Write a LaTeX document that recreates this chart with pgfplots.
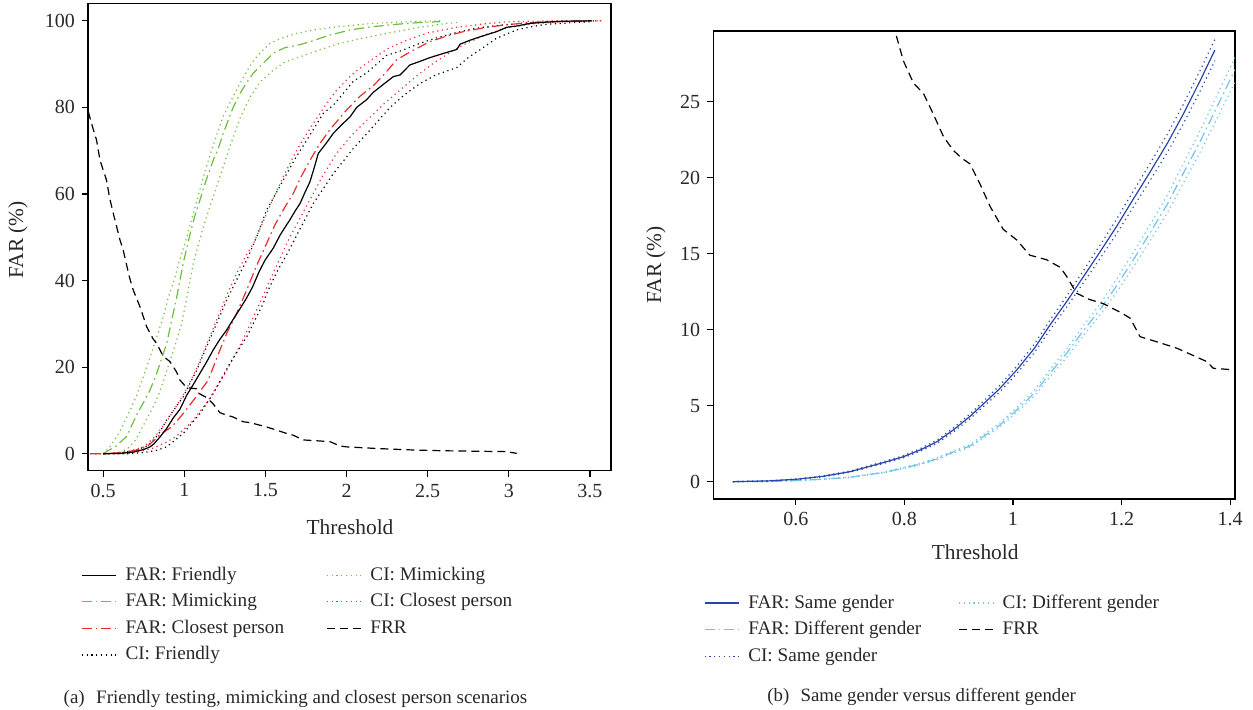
\documentclass[border=0pt]{standalone}
\usepackage{fontspec}
\setmainfont{Liberation Serif}
\usepackage{pgfplots}
\pgfplotsset{compat=1.18}
\definecolor{cgreen}{RGB}{110,190,60}
\definecolor{cred}{RGB}{235,45,45}
\definecolor{cdblue}{RGB}{40,70,170}
\definecolor{clblue}{RGB}{115,195,232}
\definecolor{ctext}{RGB}{40,40,40}
\tikzset{
  dashdot/.style={dash pattern=on 5pt off 2pt on 0.8pt off 2pt},
  mydot/.style={dash pattern=on 0.6pt off 1.8pt},
  mydash/.style={dash pattern=on 4pt off 2.5pt},
}
\pgfplotsset{
  base/.style={
    scale only axis,
    tick pos=left,
    tick align=outside,
    major tick length=3pt,
    tick style={black, line width=0.6pt},
    axis line style={line width=0.8pt},
    /pgf/number format/assume math mode=true,
    tick label style={font=\fontsize{10}{12}\selectfont, text=ctext},
    label style={font=\fontsize{10.7}{13}\selectfont, text=ctext},
    legend cell align=left,
    transpose legend,
    legend style={draw=none, fill=none, inner sep=0pt, outer sep=0pt,
      font=\fontsize{9.6}{11}\selectfont, text=ctext,
      nodes={text height=7pt, text depth=2pt, inner ysep=2.15pt, inner xsep=3pt},
      row sep=0pt,
      /tikz/every odd column/.append style={column sep=1.5pt}},
    every axis plot/.append style={line width=0.6pt},
  },
}
\begin{document}
\begin{tikzpicture}
\path[use as bounding box] (0,0) rectangle (626.5pt,355pt);
% ---------------- left panel ----------------
\begin{axis}[base,
  at={(44pt,119.65pt)}, anchor=south west,
  width=261.5pt, height=233.6pt,
  xmin=0.406, xmax=3.63, ymin=-3.9, ymax=104,
  xtick={0.5,1,1.5,2,2.5,3,3.5}, ytick={0,20,40,60,80,100},
  xlabel={Threshold}, ylabel={FAR (\%)},
  xlabel style={at={(axis description cs:0.501,-0.1205)}, anchor=center},
  ylabel style={at={(axis description cs:-0.134,0.494)}, anchor=center},
  legend columns=4,
  legend style={at={(axis description cs:-0.013,-0.195)}, anchor=north west,
    /tikz/every even column/.append style={column sep=18pt}},
]
\addlegendimage{black, solid}\addlegendentry{FAR: Friendly}
\addlegendimage{cgreen, dashdot}\addlegendentry{FAR: Mimicking}
\addlegendimage{cred, dashdot}\addlegendentry{FAR: Closest person}
\addlegendimage{black, mydot}\addlegendentry{CI: Friendly}
\addlegendimage{cgreen, mydot}\addlegendentry{CI: Mimicking}
\addlegendimage{cred, mydot}\addlegendentry{CI: Closest person}
\addlegendimage{black, mydash}\addlegendentry{FRR}
% CI mimicking
\addplot[cgreen, mydot, forget plot] coordinates {
(0.5,0) (0.541,1.6) (0.6,5) (0.665,10) (0.706,13.5) (0.747,17.8) (0.808,24.5) (0.87,31.6) (0.9,36) (0.932,39.5) (0.973,45) (1.014,50) (1.055,55.5) (1.096,61) (1.137,66.5) (1.18,71.5) (1.24,78) (1.30,82.5) (1.364,87) (1.42,90.5) (1.466,92.5) (1.528,94.8) (1.6,96) (1.692,97.1) (1.816,98) (1.939,98.6) (2.1,99.2) (2.206,99.5) (2.4,99.8) (2.576,100)};
\addplot[cgreen, mydot, forget plot] coordinates {
(0.6,0.3) (0.65,1.2) (0.7,3.2) (0.768,8) (0.81,11) (0.85,14.5) (0.89,19) (0.93,23.5) (0.983,30) (1.02,37) (1.055,44) (1.117,52.4) (1.17,58.5) (1.199,61.7) (1.25,67.5) (1.281,71) (1.343,77.5) (1.405,82.4) (1.47,86) (1.548,88.6) (1.62,90.5) (1.713,91.7) (1.85,93.5) (1.959,94.8) (2.1,96) (2.247,97.1) (2.45,98.5) (2.617,99.4) (2.7,99.7)};
% FAR mimicking
\addplot[cgreen, dashdot, forget plot] coordinates {
(0.5,0) (0.52,0.5) (0.58,1.8) (0.644,4) (0.706,9) (0.75,12) (0.788,14.7) (0.829,18.5) (0.86,22) (0.891,25.5) (0.92,30.5) (0.952,36) (0.993,44) (1.03,50) (1.065,55) (1.096,58.6) (1.137,63.5) (1.178,67.8) (1.209,70.5) (1.24,74) (1.28,78) (1.301,80) (1.343,83.2) (1.38,85.5) (1.425,87.9) (1.48,90) (1.548,92.5) (1.62,93.8) (1.713,94.5) (1.795,95.4) (1.877,96.5) (1.95,97.2) (2.021,97.9) (2.15,98.6) (2.309,99.2) (2.45,99.6) (2.576,99.8)};
% CI closest person
\addplot[cred, mydot, forget plot] coordinates {
(0.42,0) (0.55,0.1) (0.65,0.5) (0.75,1.6) (0.82,4) (0.9,8) (1.0,14) (1.08,20) (1.14,25.5) (1.2,31) (1.26,36.5) (1.32,41.5) (1.38,45.8) (1.425,48.5) (1.49,54) (1.548,59) (1.61,64) (1.671,68.6) (1.73,72.5) (1.795,76.3) (1.87,80.5) (1.939,84) (2.03,87.5) (2.124,90.2) (2.25,93.5) (2.37,95.5) (2.5,97.2) (2.679,98.5) (2.85,99.3) (3.0,99.8) (3.3,100) (3.58,100)};
\addplot[cred, mydot, forget plot] coordinates {
(0.42,0) (0.6,0) (0.7,0.3) (0.8,1.2) (0.88,2.5) (0.95,4) (1.05,7.5) (1.15,12.5) (1.25,18.5) (1.35,25.5) (1.45,33.5) (1.55,42) (1.65,50) (1.75,57) (1.85,64) (1.939,69.4) (2.03,73.5) (2.124,77) (2.23,80.8) (2.329,84) (2.43,87.2) (2.535,90.2) (2.65,93) (2.75,95) (2.87,97) (3.0,98.5) (3.15,99.3) (3.3,99.7) (3.58,100)};
% CI friendly
\addplot[black, mydot, forget plot] coordinates {
(0.5,0) (0.6,0.2) (0.7,0.8) (0.78,2) (0.84,4.5) (0.891,7.8) (0.993,13.2) (1.076,19.3) (1.137,24.7) (1.199,30.1) (1.261,35.5) (1.32,40) (1.384,44.7) (1.45,50.5) (1.507,56.3) (1.57,60.5) (1.631,64.7) (1.69,68.6) (1.754,72.4) (1.856,78.6) (1.918,80.5) (2.041,86) (2.124,88) (2.247,92) (2.329,93) (2.452,94.8) (2.55,96) (2.679,97.3) (2.8,98.3) (2.95,99) (3.1,99.5) (3.3,99.8) (3.55,100)};
\addplot[black, mydot, forget plot] coordinates {
(0.5,0) (0.65,0) (0.75,0.3) (0.83,0.8) (0.891,1.6) (0.993,4.7) (1.096,9.3) (1.178,13.9) (1.281,20.9) (1.384,27) (1.486,34.7) (1.507,37) (1.57,42) (1.631,46) (1.7,51) (1.795,57.8) (1.918,64.7) (2.041,70.5) (2.15,75) (2.268,80) (2.36,83) (2.452,85.5) (2.55,87.5) (2.679,89.2) (2.75,91.5) (2.822,93.3) (2.925,96) (3.049,97.9) (3.15,98.7) (3.233,99.2) (3.5,99.8)};
% FAR closest person
\addplot[cred, dashdot, forget plot] coordinates {
(0.42,0) (0.5,0) (0.618,0.3) (0.7,0.8) (0.768,1.6) (0.829,3.6) (0.85,4.5) (0.922,6.2) (0.993,9.3) (1.065,12.8) (1.147,17) (1.209,23) (1.261,27.8) (1.322,32.4) (1.384,37.8) (1.44,43) (1.5,48) (1.56,53) (1.62,57) (1.671,60.1) (1.72,64) (1.77,67.5) (1.836,71.7) (1.9,75) (2.0,79.4) (2.08,82.5) (2.165,85) (2.24,88) (2.309,91) (2.4,93) (2.514,95.2) (2.62,96.5) (2.72,97.5) (2.85,98.4) (2.966,99) (3.1,99.5) (3.233,99.8) (3.5,100)};
% FAR friendly
\addplot[black, solid, forget plot] coordinates {
(0.5,0) (0.6,0.1) (0.685,0.4) (0.75,1.0) (0.788,1.6) (0.81,2.2) (0.85,3.9) (0.89,5.8) (0.932,8.3) (0.973,10.3) (1.014,13.5) (1.055,16) (1.096,18.6) (1.137,21.2) (1.178,24) (1.22,26.5) (1.261,28.6) (1.30,31) (1.343,33.5) (1.384,36) (1.42,38.5) (1.46,42) (1.497,44.7) (1.548,47.5) (1.59,50.5) (1.61,51.7) (1.65,54) (1.69,56.5) (1.713,57.8) (1.745,60.5) (1.774,62.8) (1.80,66) (1.826,69.4) (1.87,71.5) (1.918,74) (1.97,76) (2.021,77.8) (2.062,80) (2.124,81.8) (2.165,83.5) (2.226,85.3) (2.288,87.1) (2.33,87.5) (2.39,89.8) (2.45,90.6) (2.514,91.5) (2.6,92.5) (2.68,93.4) (2.70,94.6) (2.76,95.5) (2.822,96.3) (2.925,97.5) (2.987,98.5) (3.05,98.8) (3.131,99.4) (3.23,99.7) (3.336,99.9) (3.51,100)};
% FRR
\addplot[black, mydash, forget plot] coordinates {
(0.408,79) (0.43,76) (0.459,72.4) (0.48,67.8) (0.5,65.5) (0.52,63.2) (0.54,59) (0.562,55.5) (0.603,49.4) (0.623,47) (0.66,41) (0.685,37.8) (0.726,34) (0.768,29.3) (0.808,26.5) (0.829,25.5) (0.87,22.5) (0.911,21.3) (0.952,18.9) (0.973,17) (1.014,15.3) (1.076,15) (1.096,13.8) (1.137,13) (1.178,11.5) (1.219,9.5) (1.24,9.2) (1.30,8.5) (1.363,7.4) (1.405,7.2) (1.507,6.2) (1.631,4.7) (1.671,4.3) (1.733,3.2) (1.82,3) (1.898,2.8) (1.96,1.8) (2.0,1.6) (2.2,1.2) (2.432,0.85) (2.6,0.7) (2.987,0.5) (3.049,0.1)};
\end{axis}
% ---------------- right panel ----------------
\begin{axis}[base,
  at={(356.65pt,105.5pt)}, anchor=south west,
  width=260.85pt, height=234pt,
  xmin=0.448, xmax=1.409, ymin=-1.14, ymax=29.65,
  xtick={0.6,0.8,1,1.2,1.4}, ytick={0,5,10,15,20,25},
  xlabel={Threshold}, ylabel={FAR (\%)},
  xlabel style={at={(axis description cs:0.502,-0.113)}, anchor=center},
  ylabel style={at={(axis description cs:-0.11,0.5)}, anchor=center},
  legend columns=3,
  legend style={at={(axis description cs:-0.018,-0.194)}, anchor=north west,
    /tikz/every even column/.append style={column sep=15.5pt}},
]
\addlegendimage{cdblue, solid}\addlegendentry{FAR: Same gender}
\addlegendimage{clblue, dashdot}\addlegendentry{FAR: Different gender}
\addlegendimage{cdblue, mydot}\addlegendentry{CI: Same gender}
\addlegendimage{clblue, mydot}\addlegendentry{CI: Different gender}
\addlegendimage{black, mydash}\addlegendentry{FRR}
% CI different gender
\addplot[clblue, mydot, forget plot] coordinates {
(0.484,0) (0.55,0.02) (0.602,0.08) (0.65,0.17) (0.7,0.31) (0.761,0.63) (0.823,1.15) (0.86,1.56) (0.884,1.94) (0.921,2.44) (0.945,3.07) (0.975,3.83) (1.007,4.88) (1.04,6.05) (1.068,7.37) (1.1,8.78) (1.13,10.28) (1.16,11.67) (1.191,13.32) (1.22,14.97) (1.253,16.93) (1.285,18.88) (1.314,20.95) (1.345,23.1) (1.375,25.37) (1.409,27.9)};
\addplot[clblue, mydot, forget plot] coordinates {
(0.484,0) (0.55,0) (0.602,0.06) (0.65,0.15) (0.7,0.27) (0.761,0.57) (0.823,1.05) (0.86,1.44) (0.884,1.8) (0.921,2.26) (0.945,2.85) (0.975,3.57) (1.007,4.56) (1.04,5.65) (1.068,6.89) (1.1,8.22) (1.13,9.62) (1.16,10.93) (1.191,12.48) (1.22,14.03) (1.253,15.87) (1.285,17.72) (1.314,19.65) (1.345,21.7) (1.375,23.83) (1.409,26.3)};
% FAR different gender
\addplot[clblue, dashdot, forget plot] coordinates {
(0.484,0) (0.55,0.01) (0.602,0.07) (0.65,0.16) (0.7,0.29) (0.761,0.6) (0.823,1.1) (0.86,1.5) (0.884,1.87) (0.921,2.35) (0.945,2.96) (0.975,3.7) (1.007,4.72) (1.04,5.85) (1.068,7.13) (1.1,8.5) (1.13,9.95) (1.16,11.3) (1.191,12.9) (1.22,14.5) (1.253,16.4) (1.285,18.3) (1.314,20.3) (1.345,22.4) (1.375,24.6) (1.409,27.1)};
% CI same gender
\addplot[cdblue, mydot, forget plot] coordinates {
(0.484,0) (0.55,0.06) (0.602,0.18) (0.65,0.38) (0.7,0.7) (0.761,1.31) (0.798,1.71) (0.83,2.19) (0.86,2.74) (0.89,3.53) (0.921,4.46) (0.945,5.28) (0.975,6.31) (1.007,7.59) (1.04,9.08) (1.068,10.62) (1.1,12.26) (1.13,13.9) (1.16,15.54) (1.191,17.28) (1.22,19.02) (1.253,20.96) (1.285,22.9) (1.314,24.84) (1.345,27.08) (1.372,29.1)};
\addplot[cdblue, mydot, forget plot] coordinates {
(0.484,0) (0.55,0.04) (0.602,0.14) (0.65,0.32) (0.7,0.62) (0.761,1.19) (0.798,1.57) (0.83,2.01) (0.86,2.52) (0.89,3.27) (0.921,4.14) (0.945,4.92) (0.975,5.89) (1.007,7.11) (1.04,8.52) (1.068,9.98) (1.1,11.54) (1.13,13.1) (1.16,14.66) (1.191,16.32) (1.22,17.98) (1.253,19.84) (1.285,21.7) (1.314,23.56) (1.345,25.72) (1.372,27.7)};
% FAR same gender
\addplot[cdblue, solid, forget plot] coordinates {
(0.484,0) (0.55,0.05) (0.602,0.16) (0.65,0.35) (0.7,0.66) (0.761,1.25) (0.798,1.64) (0.83,2.1) (0.86,2.63) (0.89,3.4) (0.921,4.3) (0.945,5.1) (0.975,6.1) (1.007,7.35) (1.04,8.8) (1.068,10.3) (1.1,11.9) (1.13,13.5) (1.16,15.1) (1.191,16.8) (1.22,18.5) (1.253,20.4) (1.285,22.3) (1.314,24.2) (1.345,26.4) (1.372,28.4)};
% FRR
\addplot[black, mydash, forget plot] coordinates {
(0.775,31) (0.783,29.6) (0.798,27.7) (0.817,26.2) (0.835,25.55) (0.853,24.2) (0.872,22.7) (0.89,21.8) (0.905,21.3) (0.921,20.9) (0.939,19.6) (0.958,18.1) (0.982,16.6) (1.007,15.9) (1.031,14.9) (1.062,14.6) (1.087,14.1) (1.099,13.5) (1.117,12.4) (1.14,12.0) (1.167,11.7) (1.2,11.1) (1.216,10.75) (1.234,9.54) (1.265,9.2) (1.302,8.78) (1.357,7.9) (1.369,7.46) (1.409,7.35)};
\end{axis}
% captions
\node[anchor=base, font=\fontsize{9.5}{11}\selectfont, text=ctext] at (147.75pt,3.35pt)
  {(a)\hspace{0.6em}Friendly testing, mimicking and closest person scenarios};
\node[anchor=base, font=\fontsize{9.4}{11}\selectfont, text=ctext] at (460.85pt,4.15pt)
  {(b)\hspace{0.6em}Same gender versus different gender};
\end{tikzpicture}
\end{document}
